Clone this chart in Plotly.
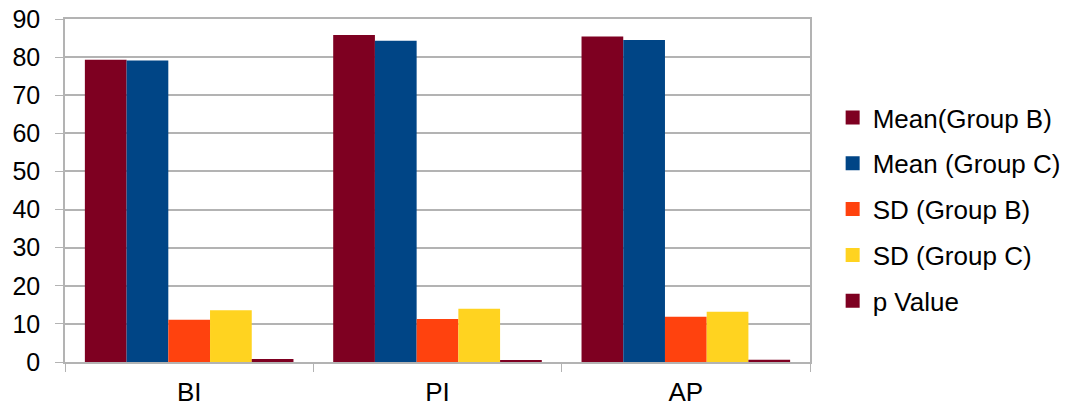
import plotly.graph_objects as go

categories = ["BI", "PI", "AP"]
mean_group_b = [79.3, 85.8, 85.4]
mean_group_c = [79.1, 84.3, 84.5]
sd_group_b = [11.1, 11.3, 11.9]
sd_group_c = [13.6, 14.0, 13.2]
p_value = [0.8, 0.4, 0.6]

series = [
    ("Mean(Group B)", mean_group_b, "#7E0021"),
    ("Mean (Group C)", mean_group_c, "#004586"),
    ("SD (Group B)", sd_group_b, "#FF420E"),
    ("SD (Group C)", sd_group_c, "#FFD320"),
    ("p Value", p_value, "#7E0021"),
]

font_family = "Liberation Sans, Arial, sans-serif"

fig = go.Figure()
for i, (name, vals, color) in enumerate(series):
    fig.add_trace(go.Bar(
        x=categories, y=vals, name=name,
        marker=dict(color=color, line=dict(width=0)),
        legendgroup=f"g{i}", showlegend=False,
    ))
    # legend key: square swatch
    fig.add_trace(go.Scatter(
        x=[None], y=[None], mode="markers", name=name,
        marker=dict(symbol="square", size=14, color=color),
        legendgroup=f"g{i}", showlegend=True,
    ))

fig.update_layout(
    width=1073, height=411,
    margin=dict(l=65, r=263, t=19, b=49, autoexpand=False),
    paper_bgcolor="white", plot_bgcolor="white",
    barmode="group", bargap=0.16, bargroupgap=0,
    font=dict(family=font_family, size=26, color="black"),
    showlegend=True,
    legend=dict(
        xref="container", yref="container",
        x=0.776, xanchor="left", y=0.49, yanchor="middle",
        maxheight=1,
        traceorder="grouped", tracegroupgap=9,
        font=dict(size=26, family=font_family, color="black"),
        bgcolor="rgba(0,0,0,0)",
    ),
    xaxis=dict(
        showline=True, linecolor="#b3b3b3", linewidth=1.5, mirror=True,
        ticks="outside", ticklen=8, tickcolor="#b3b3b3",
        tickson="boundaries", showgrid=False, automargin=False,
        tickfont=dict(size=26), ticklabelstandoff=6,
    ),
    yaxis=dict(
        range=[0, 90], dtick=10, tick0=0,
        showline=True, linecolor="#b3b3b3", linewidth=1.5, mirror=True,
        ticks="outside", ticklen=8, tickcolor="#b3b3b3",
        showgrid=True, gridcolor="#b3b3b3", gridwidth=1.5,
        zeroline=False, automargin=False,
        tickfont=dict(size=25), ticklabelstandoff=10,
    ),
)

fig.write_html("out.html")
